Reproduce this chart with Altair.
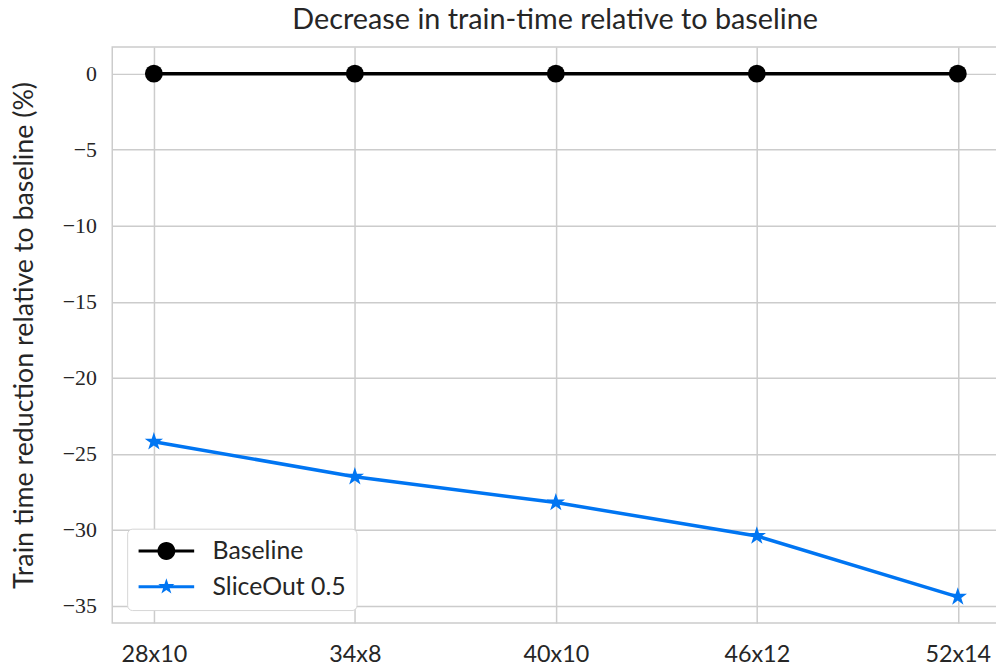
import json
import math
import altair as alt
import pandas as pd

# ---- data ----
configs = ["28x10", "34x8", "40x10", "46x12", "52x14"]
series_names = ["Baseline", "SliceOut 0.5"]
baseline = [0, 0, 0, 0, 0]
sliceout = [-24.2, -26.5, -28.2, -30.4, -34.4]
y_ticks = [0, -5, -10, -15, -20, -25, -30, -35]
colors = ["#000000", "#0075f2"]

rows = []
for i, c in enumerate(configs):
    rows.append({"idx": i, "config": c, "series": series_names[0], "value": baseline[i]})
    rows.append({"idx": i, "config": c, "series": series_names[1], "value": sliceout[i]})
df = pd.DataFrame(rows)


def star_path(r, inner=0.382):
    pts = []
    for k in range(10):
        ang = math.radians(-90 + 36 * k)
        rr = r if k % 2 == 0 else r * inner
        pts.append((rr * math.cos(ang), rr * math.sin(ang)))
    return "M" + "L".join(f"{x:.4f},{y:.4f}" for x, y in pts) + "Z"


# marker shape for the plot
star = star_path(1.08)
# legend glyphs (filled): a thin bar with the marker in its middle
half = 3.11
bar_h = 0.17
bar = f"M{-half:.3f},{-bar_h}H{half:.3f}V{bar_h}H{-half:.3f}Z"
rc = 1.0
circle_leg = bar + f"M{rc},0A{rc},{rc} 0 1,1 {-rc},0A{rc},{rc} 0 1,1 {rc},0Z"
star_leg = bar + star_path(0.95)

x_label_expr = f"{json.dumps(configs)}[datum.value]"

x_enc = alt.X(
    "idx:Q",
    scale=alt.Scale(domain=[-0.207, 4.2], nice=False, zero=False),
    axis=alt.Axis(values=list(range(len(configs))), labelExpr=x_label_expr,
                  title=None, labelFont="Lato", labelFontSize=23.5, labelPadding=20),
)
y_enc = alt.Y(
    "value:Q",
    scale=alt.Scale(domain=[-36.12, 1.75], nice=False, zero=False),
    axis=alt.Axis(values=y_ticks, title="Train time reduction relative to baseline (%)",
                  labelFont="Liberation Serif", labelFontSize=22, labelPadding=16,
                  titleFont="Lato", titleFontSize=27, titlePadding=24),
)
color_scale = alt.Scale(domain=series_names, range=colors)

legend = alt.Legend(
    title=None, orient="none", legendX=15, legendY=485,
    labelFont="Lato", labelFontSize=25, labelColor="#262626",
    symbolSize=324, symbolOffset=17, labelOffset=34, rowPadding=10,
    padding=10, fillColor="white", strokeColor="#d6d6d6", cornerRadius=5,
    symbolOpacity=1,
)

lines = alt.Chart().mark_line(strokeWidth=3.5).encode(
    x=x_enc, y=y_enc,
    color=alt.Color("series:N", scale=color_scale, legend=None),
)
points = alt.Chart().mark_point(filled=True, size=324, opacity=1).encode(
    x=x_enc, y=y_enc,
    color=alt.Color("series:N", scale=color_scale, legend=None),
    shape=alt.Shape("series:N", scale=alt.Scale(domain=series_names, range=["circle", star]), legend=None),
)
legend_layer = alt.Chart().mark_point(filled=True, size=324, opacity=0).encode(
    x=x_enc, y=y_enc,
    fill=alt.Fill("series:N", scale=color_scale, legend=legend),
    shape=alt.Shape("series:N", scale=alt.Scale(domain=series_names, range=[circle_leg, star_leg]),
                    legend=legend),
)

chart = alt.layer(lines, points, legend_layer, data=df).resolve_scale(shape="independent").properties(
    width=892, height=580,
    title=alt.Title("Decrease in train-time relative to baseline", fontSize=29, font="Lato",
                    fontWeight="normal", color="#262626", anchor="middle", offset=12),
    autosize=alt.AutoSizeParams(type="none"),
    padding={"left": 105, "top": 37, "right": -2, "bottom": 45},
).configure_view(stroke="#cccccc", strokeWidth=1.5).configure_axis(
    grid=True, gridColor="#cccccc", gridWidth=1.5, ticks=False, domain=False,
    labelColor="#262626", titleColor="#262626", titleFontWeight="normal",
).configure_legend(
    symbolBaseFillColor=alt.ExprRef(expr="scale('color', datum.value)"),
)

chart.save("out.html", embed_options={"renderer": "svg", "actions": False})
